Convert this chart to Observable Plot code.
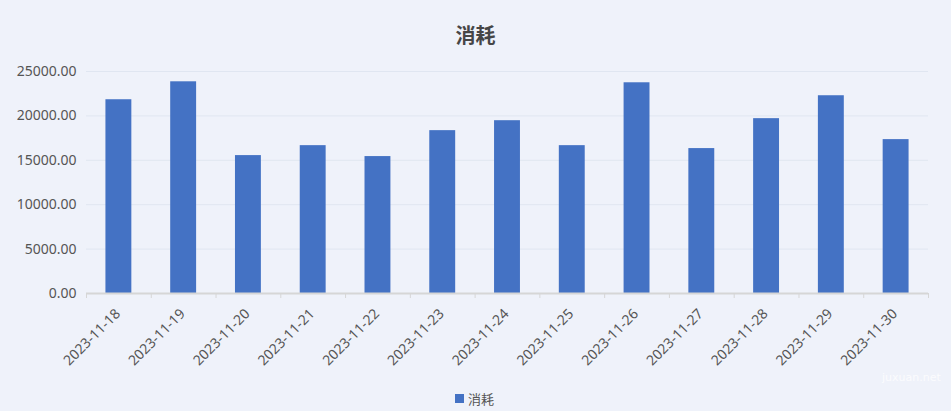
<!DOCTYPE html>
<html>
<head>
<meta charset="utf-8">
<script src="https://cdn.jsdelivr.net/npm/d3@7"></script>
<script src="https://cdn.jsdelivr.net/npm/@observablehq/plot@0.6"></script>
<style>
  html, body { margin: 0; padding: 0; background: #eff2fa; }
  #wrap { position: relative; width: 951px; height: 411px; overflow: hidden; background: #eff2fa;
          font-family: "Noto Sans CJK SC", "Noto Sans", sans-serif; }
  #chart { position: absolute; left: 0; top: 0; }
  #title { position: absolute; left: 0; width: 951px; top: 21px; text-align: center;
           font-size: 20px; font-weight: bold; color: #464646; line-height: 28px; }
  #legend { position: absolute; left: 455px; top: 389px; height: 18px; display: flex; align-items: center;
            font-size: 13px; color: #555; }
  #legend .sw { width: 9px; height: 9px; background: #4472c4; margin-right: 4px; }
  #wm { position: absolute; left: 882px; top: 371px; font-size: 11px; color: rgba(255,255,255,0.75);
        font-family: "DejaVu Sans", sans-serif; }
</style>
</head>
<body>
<div id="wrap">
  <div id="chart"></div>
  <div id="title"></div>
  <div id="legend"><div class="sw"></div><span id="legtext"></span></div>
  <div id="wm">juxuan.net</div>
</div>
<script>
const titleText = "消耗";
const seriesName = "消耗";
const dates = ["2023-11-18","2023-11-19","2023-11-20","2023-11-21","2023-11-22","2023-11-23","2023-11-24",
               "2023-11-25","2023-11-26","2023-11-27","2023-11-28","2023-11-29","2023-11-30"];
const values = [21820, 23840, 15530, 16650, 15420, 18340, 19460, 16650, 23730, 16320, 19690, 22270, 17330];
const yTicks = [0, 5000, 10000, 15000, 20000, 25000];

const data = dates.map((d, i) => ({date: d, value: values[i]}));

const W = 951, H = 411, mL = 86, mR = 23, mT = 71, mB = 118;
const step = (W - mL - mR) / dates.length;
const yMax = yTicks[yTicks.length - 1];
const tickLen = 5 * yMax / (H - mT - mB);
const labelFont = '"Noto Sans", "Noto Sans CJK SC", sans-serif';

document.getElementById("title").textContent = titleText;
document.getElementById("legtext").textContent = seriesName;

const chart = Plot.plot({
  width: W, height: H,
  marginLeft: mL, marginRight: mR, marginTop: mT, marginBottom: mB,
  style: {background: "transparent", fontFamily: labelFont, fontSize: "14px", color: "#555"},
  x: {domain: dates, paddingInner: 0.6, paddingOuter: 0.3, round: false, label: null},
  y: {domain: [0, yMax], label: null},
  marks: [
    Plot.gridY(yTicks, {stroke: "#e0e6f1", strokeOpacity: 1, strokeWidth: 1}),
    Plot.barY(data, {x: "date", y: "value", fill: "#4472c4"}),
    Plot.ruleY([0], {stroke: "#d6d6d6", strokeWidth: 2}),
    Plot.ruleX(dates, {x: d => d, y1: 0, y2: -tickLen, dx: -step / 2, stroke: "#d6d6d6", strokeWidth: 1}),
    Plot.ruleX([dates[dates.length - 1]], {x: d => d, y1: 0, y2: -tickLen, dx: step / 2, stroke: "#d6d6d6", strokeWidth: 1}),
    Plot.axisY({ticks: yTicks, tickSize: 0, tickPadding: 10, tickFormat: d => d.toFixed(2), fill: "#555", fontSize: 14, label: null}),
    Plot.axisX({tickSize: 0, tickPadding: 18, dx: -1, tickRotate: -45, fill: "#555", fontSize: 14, label: null})
  ]
});
document.getElementById("chart").appendChild(chart);
</script>
</body>
</html>
